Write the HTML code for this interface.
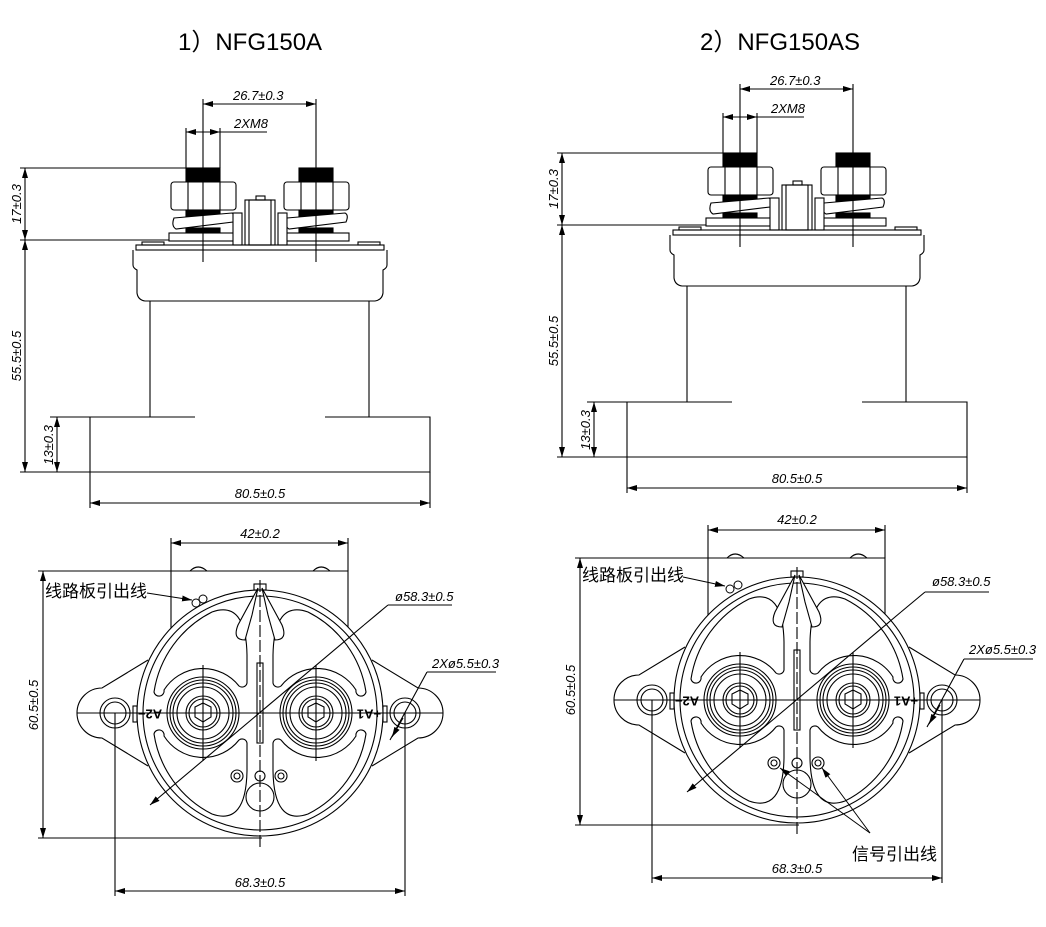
<!DOCTYPE html>
<html><head><meta charset="utf-8"><style>
html,body{margin:0;padding:0;background:#fff;width:1046px;height:927px;overflow:hidden}
svg{display:block}
.d{font-family:"Liberation Sans",sans-serif;font-style:italic;font-size:13px;fill:#000}
.t{font-family:"Liberation Sans","Noto Sans CJK SC",sans-serif;font-size:24px;fill:#000}
.c{font-family:"Liberation Sans","Noto Sans CJK SC",sans-serif;font-size:17px;fill:#000}
</style></head><body>
<svg width="1046" height="927" viewBox="0 0 1046 927" xmlns="http://www.w3.org/2000/svg">
<defs>
<marker id="a" viewBox="0 0 10 6" refX="10" refY="3" markerWidth="10" markerHeight="6" orient="auto-start-reverse" markerUnits="userSpaceOnUse"><path d="M0,0 L10,3 L0,6 Z" fill="#000"/></marker>
<g id="term">
 <rect x="186" y="168" width="34" height="14" fill="#000"/>
 <rect x="171" y="182" width="65" height="28" rx="3" fill="#fff" stroke="#000"/>
 <line x1="188" y1="182" x2="188" y2="210" stroke="#000"/><line x1="220" y1="182" x2="220" y2="210" stroke="#000"/>
 <rect x="186" y="210" width="34" height="7" fill="#000"/>
 <path d="M174,218 L232,213 Q236,215 233,222 L176,229 Q171,226 174,218 Z" fill="#fff" stroke="#000"/>
 <rect x="186" y="228" width="34" height="5" fill="#000"/>
 <rect x="169" y="233" width="67" height="8" fill="#fff" stroke="#000"/>
</g>
<g id="side" fill="none" stroke="#000" stroke-width="1.1">
 <use href="#term"/><use href="#term" x="113"/>
 <rect x="245" y="200" width="30" height="45" fill="#fff"/>
 <rect x="249" y="200" width="22" height="45"/>
 <rect x="256" y="196" width="9" height="4"/>
 <rect x="233" y="213" width="9" height="32" fill="#fff"/>
 <rect x="278" y="213" width="9" height="32" fill="#fff"/>
 <rect x="136" y="245" width="248" height="5"/>
 <rect x="142" y="242" width="22" height="3"/><rect x="358" y="242" width="22" height="3"/>
 <path d="M133,250 L133,265 Q133,268 137,270 L137,293 Q138,300 145,301 L375,301 Q382,300 383,293 L383,270 Q387,268 387,265 L387,250"/>
 <line x1="150" y1="301" x2="150" y2="417"/><line x1="369" y1="301" x2="369" y2="417"/>
 <path d="M195,417 L90,417 L90,472 L430,472 L430,417 L325,417"/>
 <line x1="203" y1="99" x2="203" y2="262"/><line x1="316" y1="99" x2="316" y2="262"/>
 <line x1="186" y1="128" x2="186" y2="168"/><line x1="220" y1="128" x2="220" y2="168"/>
 <line x1="203" y1="104" x2="316" y2="104" marker-start="url(#a)" marker-end="url(#a)"/>
 <line x1="186" y1="132" x2="220" y2="132" marker-start="url(#a)" marker-end="url(#a)"/>
 <line x1="220" y1="132" x2="267" y2="132"/>
 <line x1="20" y1="168" x2="186" y2="168"/><line x1="20" y1="240" x2="169" y2="240"/>
 <line x1="25" y1="168" x2="25" y2="240" marker-start="url(#a)" marker-end="url(#a)"/>
 <line x1="25" y1="240" x2="25" y2="472" marker-start="url(#a)" marker-end="url(#a)"/>
 <line x1="50" y1="417" x2="90" y2="417"/><line x1="20" y1="472" x2="90" y2="472"/>
 <line x1="57" y1="417" x2="57" y2="472" marker-start="url(#a)" marker-end="url(#a)"/>
 <line x1="90" y1="472" x2="90" y2="508"/><line x1="430" y1="472" x2="430" y2="508"/>
 <line x1="90" y1="503" x2="430" y2="503" marker-start="url(#a)" marker-end="url(#a)"/>
</g>
<g id="tb" fill="none" stroke="#000">
 <circle cx="0" cy="0" r="36"/><circle cx="0" cy="0" r="33"/><circle cx="0" cy="0" r="30"/><circle cx="0" cy="0" r="26"/>
 <circle cx="0" cy="0" r="17"/><circle cx="0" cy="0" r="14"/>
 <path d="M-8,-6 L0,-10 L8,-6 L8,4 L0,9 L-8,4 Z"/>
 <line x1="-40" y1="0" x2="40" y2="0"/><line x1="0" y1="-48" x2="0" y2="48"/>
</g>
<g id="slot">
 <path d="M154,692 A108,108 0 0,1 212,612 Q246,600 247,655 L247,683 A5,5 0 0,1 239,686 A46,46 0 0,0 164,690 A5,5 0 0,1 154,692 Z"/>
</g>
<g id="bot" fill="none" stroke="#000" stroke-width="1.1">
 <path d="M171,630 L171,571 L348,571 L348,630"/>
 <line x1="171" y1="538" x2="171" y2="571"/><line x1="348" y1="538" x2="348" y2="571"/>
 <line x1="171" y1="543" x2="348" y2="543" marker-start="url(#a)" marker-end="url(#a)"/>
 <path d="M190,571 Q198,563 207,571 M313,571 Q321,563 330,571"/>
 <path d="M148,660 L102,688 A25,25 0 0,0 102,738 L148,766" fill="#fff"/>
 <path d="M372,660 L418,688 A25,25 0 0,1 418,738 L372,766" fill="#fff"/>
 <circle cx="260" cy="713" r="123" fill="#fff"/><circle cx="260" cy="713" r="117"/>
 <circle cx="115" cy="713" r="15"/><circle cx="115" cy="713" r="11"/>
 <circle cx="405" cy="713" r="15"/><circle cx="405" cy="713" r="11"/>
 <rect x="133" y="706" width="4" height="16"/><rect x="383" y="706" width="4" height="16"/>
 <use href="#slot"/>
 <use href="#slot" transform="translate(520,0) scale(-1,1)"/>
 <use href="#slot" transform="translate(0,1426) scale(1,-1)"/>
 <use href="#slot" transform="translate(520,1426) scale(-1,-1)"/>
 <rect x="254" y="584" width="12" height="6"/>
 <path d="M258,588 L238,625 Q232,640 245,640 L252,615 Z" fill="#fff"/>
 <path d="M262,588 L282,625 Q288,640 275,640 L268,615 Z" fill="#fff"/>
 <rect x="257" y="663" width="6" height="80"/>
 <circle cx="237" cy="776" r="6"/><circle cx="237" cy="776" r="3"/>
 <circle cx="260" cy="776" r="5"/>
 <circle cx="281" cy="776" r="6"/><circle cx="281" cy="776" r="3"/>
 <circle cx="260" cy="797" r="14"/>
 <use href="#tb" x="203" y="713"/><use href="#tb" x="316" y="713"/>
 <line x1="77" y1="713" x2="443" y2="713"/>
 <line x1="260" y1="580" x2="260" y2="850" stroke-dasharray="12,3"/>
 <line x1="38" y1="571" x2="171" y2="571"/><line x1="38" y1="838" x2="262" y2="838"/>
 <line x1="43" y1="571" x2="43" y2="838" marker-start="url(#a)" marker-end="url(#a)"/>
 <line x1="115" y1="713" x2="115" y2="896"/><line x1="405" y1="713" x2="405" y2="896"/>
 <line x1="115" y1="891" x2="405" y2="891" marker-start="url(#a)" marker-end="url(#a)"/>
 <line x1="150" y1="805" x2="364" y2="625" marker-start="url(#a)"/>
 <line x1="364" y1="625" x2="388" y2="605"/><line x1="388" y1="605" x2="452" y2="605"/>
 <line x1="390" y1="740" x2="427" y2="672"/><line x1="427" y1="672" x2="496" y2="672"/>
 <line x1="403" y1="718" x2="392" y2="737" marker-end="url(#a)"/>
</g>
</defs>

<text class="t" x="178" y="50">1）NFG150A</text>
<text class="t" x="700" y="50">2）NFG150AS</text>

<use href="#side"/>
<use href="#side" x="537" y="-15"/>
<use href="#bot"/>
<use href="#bot" x="537" y="-13"/>

<text class="d" x="233" y="100">26.7±0.3</text>
<text class="d" x="234" y="128">2XM8</text>
<text class="d" transform="translate(21,204) rotate(-90)" text-anchor="middle">17±0.3</text>
<text class="d" transform="translate(21,356) rotate(-90)" text-anchor="middle">55.5±0.5</text>
<text class="d" transform="translate(53,445) rotate(-90)" text-anchor="middle">13±0.3</text>
<text class="d" x="260" y="498" text-anchor="middle">80.5±0.5</text>
<text class="d" x="770" y="85">26.7±0.3</text>
<text class="d" x="771" y="113">2XM8</text>
<text class="d" transform="translate(558,189) rotate(-90)" text-anchor="middle">17±0.3</text>
<text class="d" transform="translate(558,341) rotate(-90)" text-anchor="middle">55.5±0.5</text>
<text class="d" transform="translate(590,430) rotate(-90)" text-anchor="middle">13±0.3</text>
<text class="d" x="797" y="483" text-anchor="middle">80.5±0.5</text>

<text class="d" x="260" y="538" text-anchor="middle">42±0.2</text>
<text class="d" transform="translate(38,705) rotate(-90)" text-anchor="middle">60.5±0.5</text>
<text class="d" x="260" y="887" text-anchor="middle">68.3±0.5</text>
<text class="d" x="395" y="601">ø58.3±0.5</text>
<text class="d" x="432" y="668">2Xø5.5±0.3</text>
<text class="c" x="45" y="597">线路板引出线</text>
<line x1="147" y1="593" x2="192" y2="600" stroke="#000" marker-end="url(#a)"/>
<circle cx="196" cy="603" r="4" fill="none" stroke="#000"/><circle cx="203" cy="599" r="4" fill="none" stroke="#000"/>
<text x="150" y="713" font-family="Liberation Sans" font-weight="bold" font-size="13" transform="rotate(180 150 713)" text-anchor="middle" dominant-baseline="middle">A2−</text>
<text x="369" y="713" font-family="Liberation Sans" font-weight="bold" font-size="13" transform="rotate(180 369 713)" text-anchor="middle" dominant-baseline="middle">+A1</text>

<text class="d" x="797" y="524" text-anchor="middle">42±0.2</text>
<text class="d" transform="translate(575,690) rotate(-90)" text-anchor="middle">60.5±0.5</text>
<text class="d" x="797" y="873" text-anchor="middle">68.3±0.5</text>
<text class="d" x="932" y="586">ø58.3±0.5</text>
<text class="d" x="969" y="654">2Xø5.5±0.3</text>
<text class="c" x="582" y="581">线路板引出线</text>
<line x1="683" y1="577" x2="725" y2="586" stroke="#000" marker-end="url(#a)"/>
<circle cx="730" cy="589" r="4" fill="none" stroke="#000"/><circle cx="738" cy="585" r="4" fill="none" stroke="#000"/>
<text x="687" y="700" font-family="Liberation Sans" font-weight="bold" font-size="13" transform="rotate(180 687 700)" text-anchor="middle" dominant-baseline="middle">A2−</text>
<text x="906" y="700" font-family="Liberation Sans" font-weight="bold" font-size="13" transform="rotate(180 906 700)" text-anchor="middle" dominant-baseline="middle">+A1</text>
<line x1="870" y1="833" x2="780" y2="768" stroke="#000" marker-end="url(#a)"/>
<line x1="870" y1="833" x2="822" y2="768" stroke="#000" marker-end="url(#a)"/>
<text class="c" x="852" y="860">信号引出线</text>
</svg>
</body></html>
